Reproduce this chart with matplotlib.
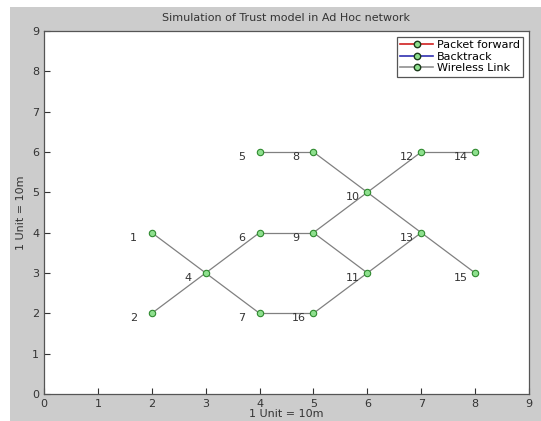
import matplotlib
matplotlib.use("Agg")
import matplotlib.pyplot as plt
from matplotlib.lines import Line2D
from matplotlib.patches import Rectangle

node_ids = [1, 2, 4, 5, 6, 7, 8, 9, 10, 11, 12, 13, 14, 15, 16]
node_x = [2, 2, 3, 4, 4, 4, 5, 5, 6, 6, 7, 7, 8, 8, 5]
node_y = [4, 2, 3, 6, 4, 2, 6, 4, 5, 3, 6, 4, 6, 3, 2]
links = [(1, 4), (4, 7), (7, 16), (16, 11), (11, 13), (13, 10), (2, 4), (4, 6),
         (6, 9), (9, 10), (10, 12), (12, 14), (5, 8), (8, 10), (9, 11), (13, 15)]
legend_labels = ["Packet forward", "Backtrack", "Wireless Link"]
legend_colors = ["#d02020", "#3030b0", "#909090"]
ticks = list(range(10))

pos = {n: (x, y) for n, x, y in zip(node_ids, node_x, node_y)}

fig = plt.figure(figsize=(5.41, 4.21), dpi=100)
fig.patch.set_facecolor("white")
fig.patches.append(Rectangle((10 / 541, 0), 531 / 541, 414 / 421,
                             transform=fig.transFigure, facecolor="#cccccc",
                             edgecolor="none", zorder=-10))
ax = fig.add_axes([44 / 541, 27 / 421, 485 / 541, 363 / 421])
ax.set_facecolor("white")

for a, b in links:
    ax.plot([pos[a][0], pos[b][0]], [pos[a][1], pos[b][1]], color="#808080",
            lw=0.9, zorder=1)
ax.plot(node_x, node_y, linestyle="none", marker="o", markersize=4.6,
        markerfacecolor="#8ee08e", markeredgecolor="#2f8a2f", markeredgewidth=0.8,
        zorder=3)
for n, x, y in zip(node_ids, node_x, node_y):
    ax.text(x - 0.4, y - 0.12, str(n), fontsize=8, color="#333333",
            ha="left", va="center", zorder=2)

ax.set_xlim(0, 9)
ax.set_ylim(0, 9)
ax.set_xticks(ticks)
ax.set_yticks(ticks)
ax.tick_params(direction="in", length=4, labelsize=8, colors="#333333",
               top=False, right=False)
for s in ax.spines.values():
    s.set_color("#555555")
    s.set_linewidth(0.9)
ax.set_title("Simulation of Trust model in Ad Hoc network", fontsize=8,
             color="#333333", pad=7)
ax.set_xlabel("1 Unit = 10m", fontsize=8, color="#333333", labelpad=0)
ax.set_ylabel("1 Unit = 10m", fontsize=8, color="#333333", labelpad=4)

handles = [Line2D([0], [0], color=c, lw=1.2, marker="o", markersize=4.6,
                  markerfacecolor="#8ee08e", markeredgecolor="#1a3a1a")
           for c in legend_colors]
leg = ax.legend(handles, legend_labels, loc="upper right", fontsize=8,
                numpoints=1, fancybox=False, framealpha=1,
                edgecolor="#555555", handlelength=2.9, handletextpad=0.4,
                borderpad=0.3, labelspacing=0.15, borderaxespad=0.5)
leg.get_frame().set_linewidth(0.9)

fig.savefig("out.png", dpi=100)
